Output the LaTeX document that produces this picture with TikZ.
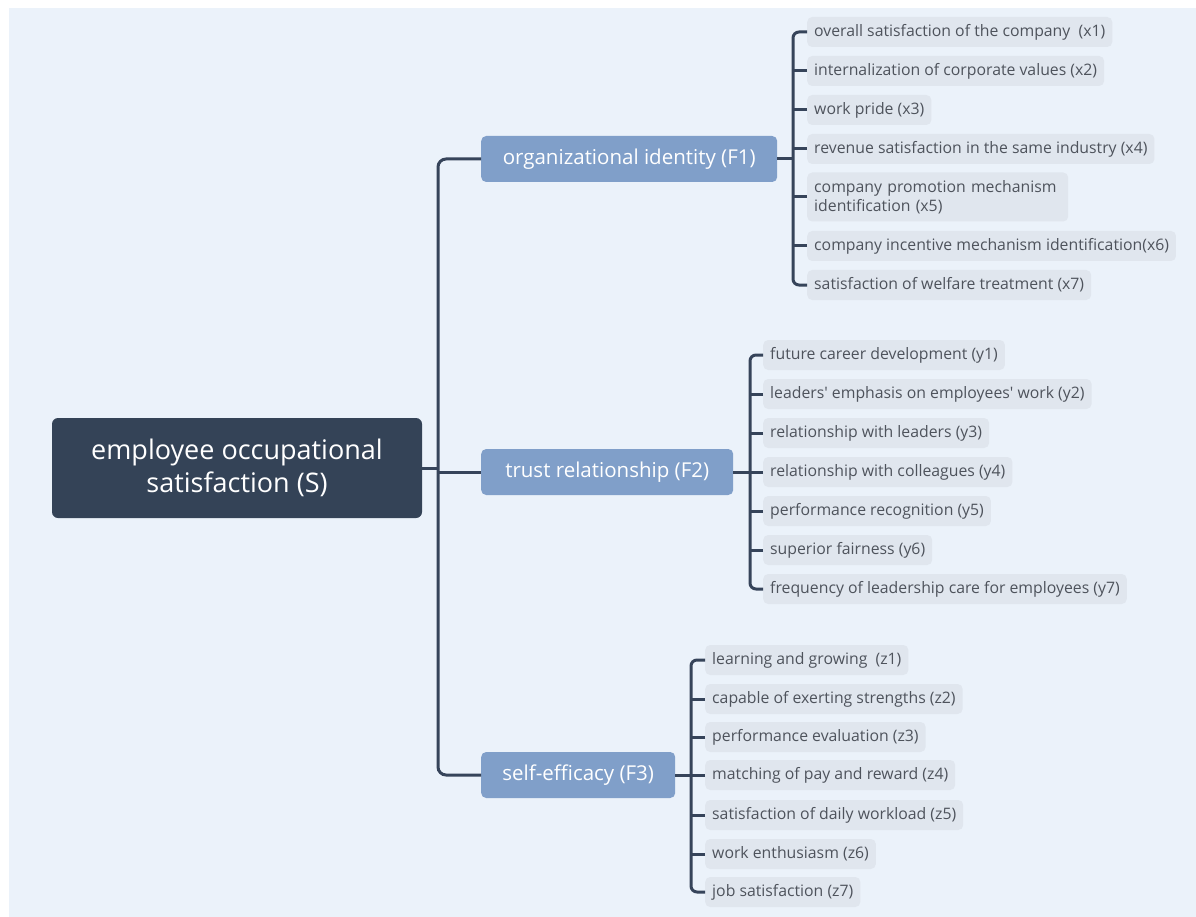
\documentclass[tikz,border=0pt]{standalone}
\usepackage{fontspec}
\setmainfont{Open Sans}[Ligatures=TeXOff]
\begin{document}
\begin{tikzpicture}[x=1pt,y=-1pt,
  conn/.style={draw=lineC, line width=3pt},
  rootbox/.style={fill=rootC, text=white, rounded corners=6pt, minimum width=370pt, minimum height=100pt, align=center, font=\fontsize{27}{33}\selectfont, inner sep=0pt},
  midbox/.style={fill=midC, text=white, rounded corners=5pt, minimum height=46pt, anchor=west, font=\fontsize{20.5}{24}\selectfont, inner sep=0pt},
  leafbox/.style={fill=leafC, text=leafT, rounded corners=5pt, minimum height=30pt, anchor=west, inner xsep=7pt, inner ysep=0pt, align=left, font=\fontsize{15.8}{19}\selectfont}
]
\definecolor{bgC}{HTML}{EBF2FA}
\definecolor{rootC}{HTML}{344357}
\definecolor{midC}{HTML}{809FC9}
\definecolor{leafC}{HTML}{E0E6EE}
\definecolor{leafT}{HTML}{4E535C}
\definecolor{lineC}{HTML}{36445A}
\useasboundingbox (0,0) rectangle (1196,917);
\fill[white] (0,0) rectangle (1196,917);
\fill[bgC] (9,8) rectangle (1196,917);

% root
\node[rootbox] (root) at (237,468) {employee occupational\\satisfaction (S)};

% main branches
\node[midbox, minimum width=296pt] (F1) at (481,159) {organizational identity (F1)};
\node[midbox, minimum width=252pt] (F2) at (481,472) {trust relationship (F2)};
\node[midbox, minimum width=194pt] (F3) at (481,775) {self-efficacy (F3)};

\coordinate (m) at (438,468);
\draw[conn] (root.east) -- (m);
\draw[conn] (F2.west) -- (F2.west -| m);
\draw[conn, rounded corners=8pt] (F1.west) -- (F1.west -| m) -- (F3.west -| m) -- (F3.west);

% F1 leaves
\node[leafbox] (x1) at (807,32) {overall satisfaction of the company\ \ (x1)};
\node[leafbox] (x2) at (807,71) {internalization of corporate values (x2)};
\node[leafbox] (x3) at (807,110) {work pride (x3)};
\node[leafbox] (x4) at (807,149) {revenue satisfaction in the same industry (x4)};
\node[leafbox, minimum height=49pt, text width=247pt] (x5) at (807,197) {company promotion mechanism identification (x5)};
\node[leafbox] (x6) at (807,246) {company incentive mechanism identification(x6)};
\node[leafbox] (x7) at (807,285) {satisfaction of welfare treatment (x7)};

\coordinate (b1) at (793,159);
\draw[conn] (F1.east) -- (b1);
\draw[conn, rounded corners=6pt] (x1.west) -- (x1.west -| b1) -- (x7.west -| b1) -- (x7.west);
\foreach \n in {x2,x3,x4,x5,x6} \draw[conn] (\n.west) -- (\n.west -| b1);

% F2 leaves
\node[leafbox] (y1) at (763,355) {future career development (y1)};
\node[leafbox] (y2) at (763,394) {leaders' emphasis on employees' work (y2)};
\node[leafbox] (y3) at (763,433) {relationship with leaders (y3)};
\node[leafbox] (y4) at (763,472) {relationship with colleagues (y4)};
\node[leafbox] (y5) at (763,511) {performance recognition (y5)};
\node[leafbox] (y6) at (763,550) {superior fairness (y6)};
\node[leafbox] (y7) at (763,589) {frequency of leadership care for employees (y7)};

\coordinate (b2) at (750,472);
\draw[conn] (F2.east) -- (b2);
\draw[conn, rounded corners=6pt] (y1.west) -- (y1.west -| b2) -- (y7.west -| b2) -- (y7.west);
\foreach \n in {y2,y3,y4,y5,y6} \draw[conn] (\n.west) -- (\n.west -| b2);

% F3 leaves
\node[leafbox] (z1) at (705,660) {learning and growing\ \ (z1)};
\node[leafbox] (z2) at (705,699) {capable of exerting strengths (z2)};
\node[leafbox] (z3) at (705,737) {performance evaluation (z3)};
\node[leafbox] (z4) at (705,775) {matching of pay and reward (z4)};
\node[leafbox] (z5) at (705,815) {satisfaction of daily workload (z5)};
\node[leafbox] (z6) at (705,854) {work enthusiasm (z6)};
\node[leafbox] (z7) at (705,892) {job satisfaction (z7)};

\coordinate (b3) at (691,775);
\draw[conn] (F3.east) -- (b3);
\draw[conn, rounded corners=6pt] (z1.west) -- (z1.west -| b3) -- (z7.west -| b3) -- (z7.west);
\foreach \n in {z2,z3,z4,z5,z6} \draw[conn] (\n.west) -- (\n.west -| b3);
\end{tikzpicture}
\end{document}
